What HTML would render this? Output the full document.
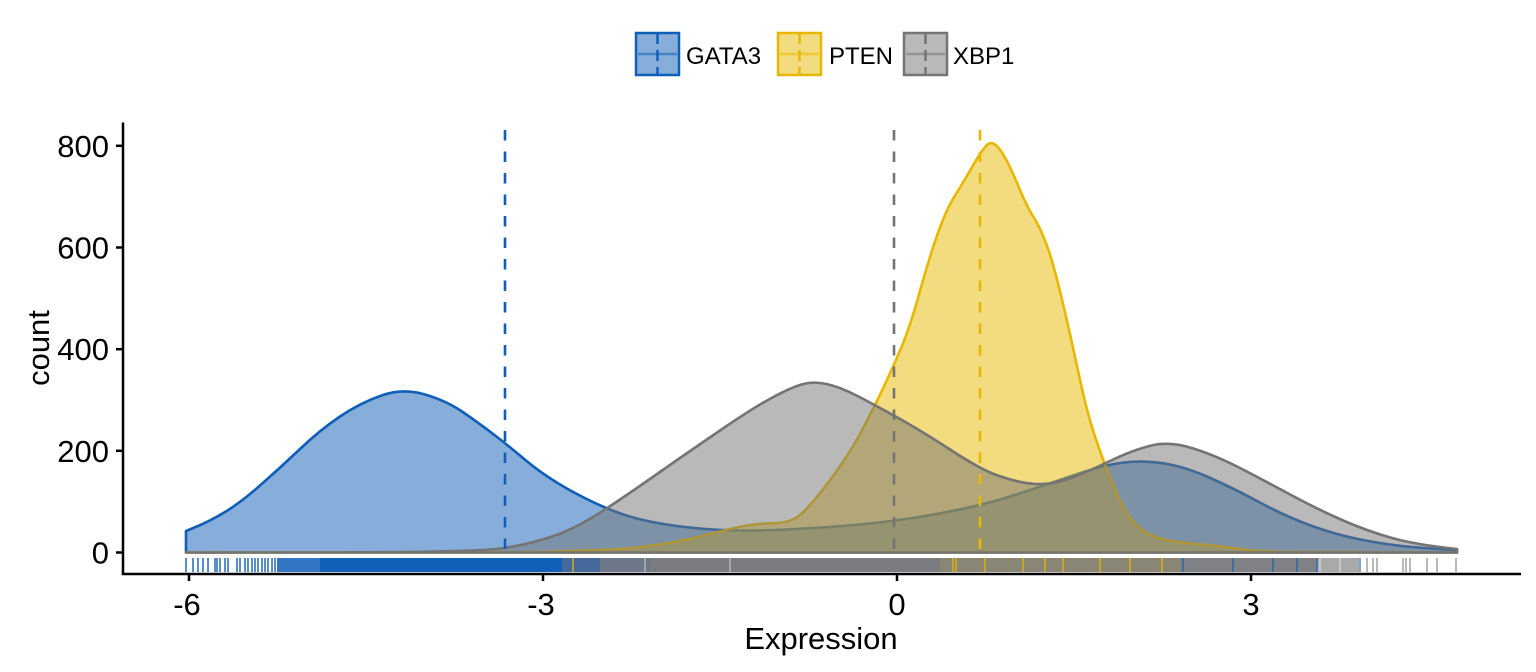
<!DOCTYPE html>
<html>
<head>
<meta charset="utf-8">
<style>
html,body{margin:0;padding:0;background:#fff;}
svg{display:block;}
text{font-family:"Liberation Sans",Arial,sans-serif;fill:#000;}
</style>
</head>
<body>
<svg width="1536" height="672" viewBox="0 0 1536 672" xmlns="http://www.w3.org/2000/svg">
<rect x="0" y="0" width="1536" height="672" fill="#fff"/>

<!-- Legend -->
<g>
  <rect x="636" y="33" width="43" height="42" fill="#0F5EB8" fill-opacity="0.5" stroke="#0F5EB8" stroke-width="2.5"/>
  <line x1="638" y1="54" x2="677" y2="54" stroke="#0F5EB8" stroke-opacity="0.55" stroke-width="2.5"/>
  <line x1="657.5" y1="33" x2="657.5" y2="75" stroke="#0F5EB8" stroke-width="2.5" stroke-dasharray="11 6"/>
  <text x="686" y="64" font-size="24">GATA3</text>

  <rect x="778" y="33" width="43" height="42" fill="#E7B800" fill-opacity="0.5" stroke="#E7B800" stroke-width="2.5"/>
  <line x1="780" y1="54" x2="819" y2="54" stroke="#E7B800" stroke-opacity="0.55" stroke-width="2.5"/>
  <line x1="799.5" y1="33" x2="799.5" y2="75" stroke="#E7B800" stroke-width="2.5" stroke-dasharray="11 6"/>
  <text x="829" y="64" font-size="24">PTEN</text>

  <rect x="904" y="33" width="43" height="42" fill="#747474" fill-opacity="0.5" stroke="#747474" stroke-width="2.5"/>
  <line x1="906" y1="54" x2="945" y2="54" stroke="#747474" stroke-opacity="0.55" stroke-width="2.5"/>
  <line x1="925.5" y1="33" x2="925.5" y2="75" stroke="#747474" stroke-width="2.5" stroke-dasharray="11 6"/>
  <text x="953" y="64" font-size="24">XBP1</text>
</g>

<!-- Densities -->
<path d="M186,531 L198,526 Q210,521 225,512 Q240,503 260,485.5 Q280,468 300,449 Q320,430 340,416.5 Q360,403 381.5,395.5 Q403,388 425,394.5 Q447,401 463.5,412.5 Q480,424 492.5,433.5 Q505,443 526,460.5 Q547,478 575,493 Q603,508 626.5,515.5 Q650,523 685,527 Q720,531 755,530.5 Q790,530 841.5,526 Q893,522 936.5,514 Q980,506 1008.5,497 Q1037,488 1068.5,477 Q1100,466 1120,463 Q1140,460 1161.5,463 Q1183,466 1208,477 Q1233,488 1258,501.5 Q1283,515 1308,524.5 Q1333,534 1358,539 Q1383,544 1401.5,546 Q1420,548 1457,550 L1457,552.5 L186,552.5 Z"
 fill="#0F5EB8" fill-opacity="0.5" stroke="#0F5EB8" stroke-width="2.6" stroke-linejoin="round"/>

<path d="M186,552.5 L333,552.45 Q480,552.4 510,552.2 Q540,552 560,551.25 Q580,550.5 600,550 Q620,549.5 635,547.75 Q650,546 668.5,543 Q687,540 712,533.5 Q737,527 748.5,525.25 Q760,523.5 773.5,523.25 Q787,523 795,518.5 Q803,514 816.5,497.5 Q830,481 841.5,464 Q853,447 860,434 Q867,421 873.5,408 Q880,395 886.5,381 Q893,367 901.5,347 Q910,327 920,291 Q930,255 938.5,231.5 Q947,208 955,195.5 Q963,183 971.5,168 Q980,153 986,146 Q992,139 999.5,149 Q1007,159 1017,183 Q1027,207 1033.5,217 Q1040,227 1046.5,244.5 Q1053,262 1061.5,297.5 Q1070,333 1078.5,373 Q1087,413 1095,436.5 Q1103,460 1106.5,468.5 Q1110,477 1118.5,497 Q1127,517 1138.5,527 Q1150,537 1166.5,540 Q1183,543 1196.5,544 Q1210,545 1221.5,546.5 Q1233,548 1246.5,549.75 Q1260,551.5 1290,551.9 Q1320,552.3 1457,552.5 L186,552.5 Z"
 fill="#E7B800" fill-opacity="0.5" stroke="#E7B800" stroke-width="2.6" stroke-linejoin="round"/>

<path d="M186,552.5 L293,552.4 Q400,552.3 430,551.65 Q460,551 482.5,550 Q505,549 527.5,543.5 Q550,538 564,532 Q578,526 590.5,518.5 Q603,511 621.5,498.5 Q640,486 663.5,469.5 Q687,453 720,430.5 Q753,408 771.5,398 Q790,388 801.5,384.5 Q813,381 826.5,384 Q840,387 856.5,395.5 Q873,404 896.5,417 Q920,430 950,449.5 Q980,469 995,474.5 Q1010,480 1023.5,482.5 Q1037,485 1048.5,483.5 Q1060,482 1073.5,477 Q1087,472 1110,461 Q1133,450 1151.5,445.5 Q1170,441 1193.5,448.5 Q1217,456 1242,469 Q1267,482 1292,495.5 Q1317,509 1342,520 Q1367,531 1392,538 Q1417,545 1457,549 L1457,552.5 L186,552.5 Z"
 fill="#747474" fill-opacity="0.5" stroke="#747474" stroke-width="2.6" stroke-linejoin="round"/>

<!-- Mean lines -->
<line x1="505" y1="130" x2="505" y2="552" stroke="#0F5EB8" stroke-width="2.6" stroke-dasharray="10.5 11"/>
<line x1="894" y1="130" x2="894" y2="552" stroke="#747474" stroke-width="2.6" stroke-dasharray="10.5 11"/>
<line x1="980" y1="130" x2="980" y2="552" stroke="#E7B800" stroke-width="2.6" stroke-dasharray="10.5 11"/>

<!-- Rug -->
<g stroke-width="2">
  <g stroke="#0F5EB8" stroke-opacity="0.7">
    <line x1="186" y1="558" x2="186" y2="572"/><line x1="193" y1="558" x2="193" y2="572"/>
    <line x1="198" y1="558" x2="198" y2="572"/><line x1="203" y1="558" x2="203" y2="572"/>
    <line x1="208" y1="558" x2="208" y2="572"/><line x1="215" y1="558" x2="215" y2="572"/>
    <line x1="217" y1="558" x2="217" y2="572"/><line x1="220" y1="558" x2="220" y2="572"/>
    <line x1="225" y1="558" x2="225" y2="572"/><line x1="228" y1="558" x2="228" y2="572"/>
    <line x1="237" y1="558" x2="237" y2="572"/><line x1="240" y1="558" x2="240" y2="572"/>
    <line x1="245" y1="558" x2="245" y2="572"/><line x1="248" y1="558" x2="248" y2="572"/>
    <line x1="252" y1="558" x2="252" y2="572"/><line x1="255" y1="558" x2="255" y2="572"/>
    <line x1="258" y1="558" x2="258" y2="572"/><line x1="262" y1="558" x2="262" y2="572"/>
    <line x1="265" y1="558" x2="265" y2="572"/><line x1="268" y1="558" x2="268" y2="572"/>
    <line x1="272" y1="558" x2="272" y2="572"/><line x1="275" y1="558" x2="275" y2="572"/>
  </g>
  <rect x="277" y="558" width="43" height="14" fill="#0F5EB8" opacity="0.85" stroke="none"/>
  <rect x="320" y="558" width="242" height="14" fill="#1060B8" stroke="none"/>
  <rect x="562" y="558" width="38" height="14" fill="#44699a" stroke="none"/>
  <rect x="600" y="558" width="50" height="14" fill="#6e7888" stroke="none"/>
  <rect x="650" y="558" width="290" height="14" fill="#7b7c80" stroke="none"/>
  <rect x="940" y="558" width="240" height="14" fill="#8a8676" stroke="none"/>
  <rect x="1180" y="558" width="137" height="14" fill="#7f8187" stroke="none"/>
  <rect x="1317" y="558" width="42" height="14" fill="#a9a9a9" stroke="none"/>
  <g stroke="#ffffff" stroke-opacity="0.45" stroke-width="1.5">
    <line x1="645" y1="558" x2="645" y2="572"/><line x1="730" y1="558" x2="730" y2="572"/>
    <line x1="1320" y1="558" x2="1320" y2="572"/><line x1="1340" y1="558" x2="1340" y2="572"/>
  </g>
  <g stroke="#E7B800" stroke-opacity="0.8" stroke-width="1.6">
    <line x1="573" y1="558" x2="573" y2="572"/><line x1="953" y1="558" x2="953" y2="572"/>
    <line x1="956" y1="558" x2="956" y2="572"/><line x1="985" y1="558" x2="985" y2="572"/>
    <line x1="1023" y1="558" x2="1023" y2="572"/><line x1="1045" y1="558" x2="1045" y2="572"/>
    <line x1="1063" y1="558" x2="1063" y2="572"/><line x1="1100" y1="558" x2="1100" y2="572"/>
    <line x1="1130" y1="558" x2="1130" y2="572"/><line x1="1162" y1="558" x2="1162" y2="572"/>
  </g>
  <g stroke="#0F5EB8" stroke-opacity="0.7" stroke-width="1.6">
    <line x1="1183" y1="558" x2="1183" y2="572"/><line x1="1233" y1="558" x2="1233" y2="572"/>
    <line x1="1273" y1="558" x2="1273" y2="572"/><line x1="1297" y1="558" x2="1297" y2="572"/>
    <line x1="1317" y1="558" x2="1317" y2="572"/><line x1="1360" y1="558" x2="1360" y2="572"/>
  </g>
  <g stroke="#747474" stroke-opacity="0.55" stroke-width="1.8">
    <line x1="1367" y1="558" x2="1367" y2="572"/><line x1="1373" y1="558" x2="1373" y2="572"/>
    <line x1="1377" y1="558" x2="1377" y2="572"/><line x1="1403" y1="558" x2="1403" y2="572"/>
    <line x1="1406" y1="558" x2="1406" y2="572"/><line x1="1410" y1="558" x2="1410" y2="572"/>
    <line x1="1427" y1="558" x2="1427" y2="572"/><line x1="1437" y1="558" x2="1437" y2="572"/>
    <line x1="1456" y1="558" x2="1456" y2="572"/>
  </g>
</g>

<!-- Axes -->
<g stroke="#000" stroke-width="2.5" fill="none">
  <line x1="123" y1="122.5" x2="123" y2="575"/>
  <line x1="121.8" y1="574" x2="1521" y2="574"/>
  <line x1="116" y1="552.5" x2="123" y2="552.5"/>
  <line x1="116" y1="450.8" x2="123" y2="450.8"/>
  <line x1="116" y1="349.2" x2="123" y2="349.2"/>
  <line x1="116" y1="247.5" x2="123" y2="247.5"/>
  <line x1="116" y1="145.8" x2="123" y2="145.8"/>
  <line x1="189" y1="574" x2="189" y2="581"/>
  <line x1="543" y1="574" x2="543" y2="581"/>
  <line x1="897" y1="574" x2="897" y2="581"/>
  <line x1="1251" y1="574" x2="1251" y2="581"/>
</g>

<g font-size="31" text-anchor="end">
  <text x="109" y="563.5">0</text>
  <text x="109" y="461.8">200</text>
  <text x="109" y="360.2">400</text>
  <text x="109" y="258.5">600</text>
  <text x="109" y="156.8">800</text>
</g>
<g font-size="31" text-anchor="middle">
  <text x="187" y="615">-6</text>
  <text x="541" y="615">-3</text>
  <text x="897" y="615">0</text>
  <text x="1251" y="615">3</text>
</g>
<text x="821" y="649" font-size="31" text-anchor="middle">Expression</text>
<text x="0" y="0" font-size="31" text-anchor="middle" transform="translate(49,348) rotate(-90)">count</text>
</svg>
</body>
</html>
